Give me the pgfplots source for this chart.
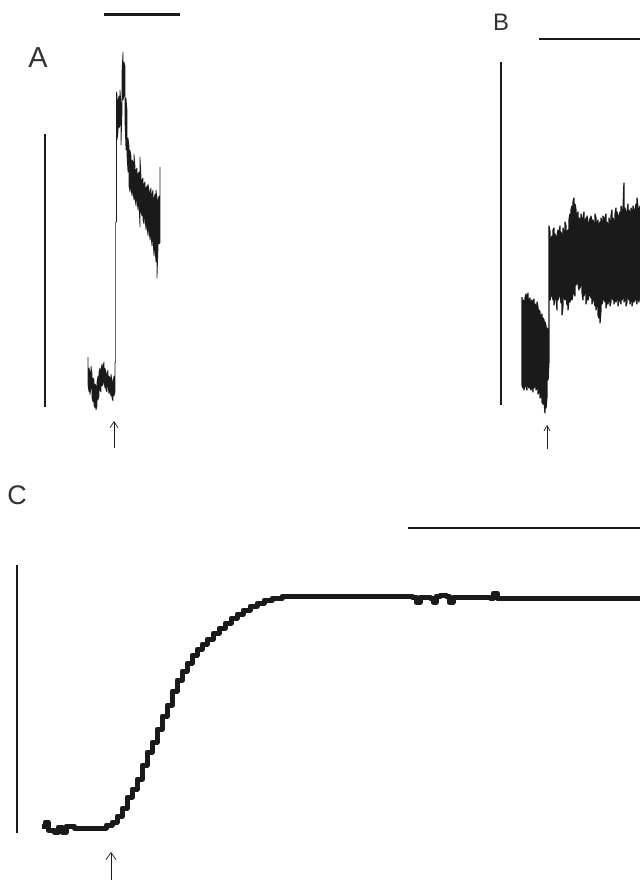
\documentclass[border=0pt]{standalone}
\usepackage{fontspec}
\setmainfont{Liberation Sans}
\usepackage{pgfplots}
\pgfplotsset{compat=1.18}
\usetikzlibrary{arrows.meta}
\definecolor{ink}{HTML}{1A1A1A}
\definecolor{lbl}{HTML}{333333}

\begin{document}
\begin{tikzpicture}
\begin{axis}[
  scale only axis, width=640bp, height=882bp,
  xmin=0, xmax=640, ymin=0, ymax=882, y dir=reverse,
  axis lines=none, ticks=none,
  axis background/.style={fill=white},
  every axis plot/.append style={ink, line join=round},
]
% ---- panel A ----
\addplot[line width=2.5bp] coordinates {(104,14.5)(180,14.5)};
\addplot[line width=2.5bp] coordinates {(45,134)(45,407)};
\addplot[line width=0.7bp] coordinates {
 (88,357)(88,385)(89,392)(89,368)(90,372)(90,395)(91,388)(91,366)(92,374)(92,398)
 (93,402)(93,378)(94,380)(94,405)(95,408)(95,384)(96,386)(96,410)(97,406)(97,382)
 (98,376)(98,400)(99,396)(99,372)(100,368)(100,390)(101,392)(101,370)(102,364)(102,386)
 (103,384)(103,366)(104,362)(104,382)(105,388)(105,368)(106,372)(106,390)(107,392)(107,374)
 (108,370)(108,386)(109,394)(109,376)(110,378)(110,392)(111,396)(111,374)(112,380)(112,398)
 (113,401)(113,382)(114,376)(114,396)(115,392)(115,362)(115.6,362)(115.6,222)(116.4,222)(116.4,92)
 (117,95)(117,140)(118,132)(118,100)(119,96)(119,128)(120,125)(120,90)(121,104)(121,145)
 (122,112)(122,72)(123,52)(123,100)(124,96)(124,62)(125,66)(125,122)(126,150)(126,98)
 (127,110)(127,156)(128,172)(128,138)(129,146)(129,186)(130,192)(130,150)(131,156)(131,188)
 (132,196)(132,160)(133,162)(133,192)(134,200)(134,154)(135,166)(135,198)(136,206)(136,170)
 (137,168)(137,200)(138,210)(138,174)(139,172)(139,205)(140,227)(140,157)(141,176)(141,212)
 (142,216)(142,180)(143,178)(143,220)(144,224)(144,184)(145,182)(145,218)(146,230)(146,188)
 (147,186)(147,226)(148,236)(148,184)(149,190)(149,230)(150,240)(150,192)(151,188)(151,236)
 (152,246)(152,194)(153,190)(153,240)(154,256)(154,198)(155,194)(155,250)(156,262)(156,190)
 (157,198)(157,278)(158,248)(158,200)(159,196)(159,244)(160,243)(160,167)
};
\addplot[line width=0.7bp, -{Straight Barb[length=6bp,width=8bp]}] coordinates {(114,448)(114,421)};
\node[font=\fontsize{29}{29}\selectfont, text=lbl] at (axis cs:38,58) {A};

% ---- panel B ----
\addplot[line width=2bp] coordinates {(539,39)(640,39)};
\addplot[line width=2bp] coordinates {(501,62)(501,405)};
\addplot[line width=1.3bp] coordinates {
 (522,297)(522,385)(523,388)(523,300)(524,302)(524,390)(525,382)(525,298)(526,294)(526,386)
 (527,390)(527,299)(528,293)(528,384)(529,388)(529,300)(530,298)(530,386)(531,390)(531,302)
 (532,300)(532,384)(533,392)(533,305)(534,299)(534,388)(535,386)(535,304)(536,306)(536,390)
 (537,388)(537,302)(538,308)(538,394)(539,392)(539,310)(540,312)(540,398)(541,396)(541,316)
 (542,314)(542,402)(543,404)(543,318)(544,320)(544,400)(545,413)(545,322)(546,326)(546,408)
 (547,396)(547,328)(548,330)(548,380)(549,360)(549,226)(550,232)(550,300)(551,296)(551,240)
 (552,236)(552,290)(553,300)(553,230)(554,228)(554,305)(555,298)(555,234)(556,240)(556,292)
 (557,310)(557,236)(558,230)(558,300)(559,296)(559,238)(560,226)(560,290)(561,303)(561,232)
 (562,236)(562,315)(563,305)(563,228)(564,234)(564,296)(565,300)(565,222)(566,226)(566,292)
 (567,305)(567,232)(568,230)(568,310)(569,298)(569,220)(570,214)(570,302)(571,296)(571,210)
 (572,206)(572,300)(573,294)(573,202)(574,198)(574,290)(575,296)(575,204)(576,210)(576,285)
 (577,280)(577,215)(578,212)(578,284)(579,290)(579,218)(580,220)(580,288)(581,282)(581,214)
 (582,224)(582,292)(583,300)(583,218)(584,212)(584,296)(585,290)(585,222)(586,218)(586,304)
 (587,296)(587,216)(588,222)(588,300)(589,295)(589,230)(590,218)(590,292)(591,298)(591,216)
 (592,222)(592,304)(593,296)(593,220)(594,226)(594,300)(595,306)(595,214)(596,218)(596,310)
 (597,302)(597,224)(598,220)(598,315)(599,318)(599,226)(600,222)(600,323)(601,310)(601,218)
 (602,224)(602,304)(603,300)(603,216)(604,220)(604,296)(605,302)(605,218)(606,214)(606,308)
 (607,300)(607,222)(608,226)(608,304)(609,298)(609,218)(610,224)(610,306)(611,302)(611,216)
 (612,210)(612,296)(613,300)(613,218)(614,222)(614,304)(615,298)(615,214)(616,208)(616,302)
 (617,296)(617,212)(618,218)(618,306)(619,300)(619,216)(620,212)(620,298)(621,304)(621,206)
 (622,214)(622,300)(623,296)(623,210)(624,183)(624,302)(625,298)(625,208)(626,216)(626,306)
 (627,302)(627,212)(628,204)(628,296)(629,300)(629,210)(630,214)(630,304)(631,298)(631,208)
 (632,212)(632,306)(633,300)(633,206)(634,210)(634,302)(635,296)(635,214)(636,204)(636,300)
 (637,304)(637,198)(638,208)(638,298)(639,302)(639,212)(640,206)(640,300)
};
\addplot[line width=0.7bp, -{Straight Barb[length=5bp,width=6bp]}] coordinates {(547,449)(547,425)};
\node[font=\fontsize{24}{24}\selectfont, text=lbl] at (axis cs:501,22) {B};

% ---- panel C ----
\addplot[line width=2bp] coordinates {(408,528)(640,528)};
\addplot[line width=2bp] coordinates {(17,565)(17,833)};
\addplot[const plot, line width=5bp] coordinates {
 (42,826)(45,822)(48,830)(54,832)(58,827)(62,832)(66,826)(74,828)(100,828)(106,825)
 (112,822)(117,816)(122,808)(127,797)(132,789)(137,779)(142,765)(147,752)(152,742)(157,729)
 (162,716)(167,705)(172,691)(177,680)(182,671)(187,663)(192,655)(197,649)(202,644)(207,639)
 (213,633)(219,628)(225,623)(231,618)(237,614)(243,610)(250,606)(257,603)(264,600)(272,598)
 (282,596)(400,596)(412,597)(416,602)(420,597)(430,598)(433,602)(436,596)(440,595)(446,596)
 (449,602)(453,597)(490,598)(493,593)(497,598)(640,598)
};
\addplot[line width=0.7bp, -{Straight Barb[length=7bp,width=10bp]}] coordinates {(111,880)(111,852)};
\node[font=\fontsize{27}{27}\selectfont, text=lbl] at (axis cs:17,495) {C};
\end{axis}
\end{tikzpicture}
\end{document}
